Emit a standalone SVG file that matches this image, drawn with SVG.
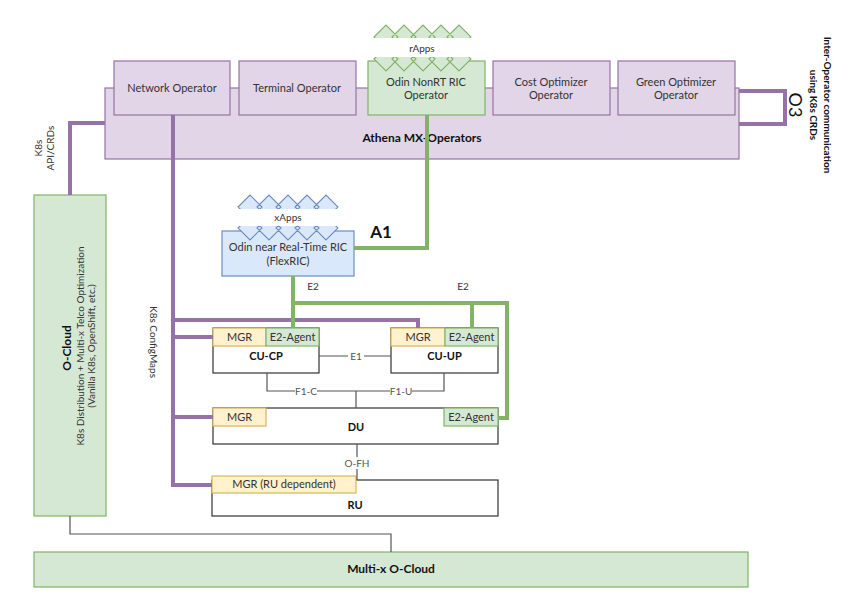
<svg xmlns="http://www.w3.org/2000/svg" width="850" height="604" viewBox="0 0 850 604">
<defs>
<style>
text{font-family:Lato,"Open Sans","Liberation Sans",sans-serif;fill:#333;font-size:11px;text-anchor:middle}
.b{font-weight:bold;fill:#111;font-size:12px}
.s{font-size:10px}
.pur{fill:#e1d5e7;stroke:#9673a6;stroke-width:1.2}
.grn{fill:#d5e8d4;stroke:#82b366;stroke-width:1.2}
.blu{fill:#dae8fc;stroke:#6c8ebf;stroke-width:1.2}
.yel{fill:#fff2cc;stroke:#d6b656;stroke-width:1.2}
.wht{fill:#fff;stroke:#333;stroke-width:1.2}
.p{fill:none;stroke:#9673a6;stroke-width:4}
.g{fill:none;stroke:#82b366;stroke-width:4}
.k{fill:none;stroke:#555;stroke-width:1.2}
.dg{fill:#d5e8d4;stroke:none}
.dgs{fill:none;stroke:#82b366;stroke-width:1.1}
.db{fill:#dae8fc;stroke:none}
.dbs{fill:none;stroke:#6c8ebf;stroke-width:1.1}
</style>
</defs>

<g id="athena">
<rect class="pur" x="105" y="88" width="634" height="71"/>
<text class="b" x="422" y="142">Athena MX-Operators</text>
</g>
<g id="network-operator">
<rect class="pur" x="114" y="61" width="116" height="54"/>
<text x="172" y="92">Network Operator</text>
</g>
<g id="terminal-operator">
<rect class="pur" x="239" y="61" width="117" height="54"/>
<text x="297" y="92">Terminal Operator</text>
</g>
<g id="odin-nonrt">
<rect class="grn" x="368" y="61" width="117" height="54"/>
<text x="426" y="86">Odin NonRT RIC</text>
<text x="426" y="99">Operator</text>
</g>
<g id="cost-optimizer">
<rect class="pur" x="493" y="61" width="117" height="54"/>
<text x="551" y="86">Cost Optimizer</text>
<text x="551" y="99">Operator</text>
</g>
<g id="green-optimizer">
<rect class="pur" x="618" y="61" width="117" height="54"/>
<text x="676" y="86">Green Optimizer</text>
<text x="676" y="99">Operator</text>
</g>

<g id="rapps">
<path class="dg" d="M374,37 l12,-12 l12,12 l-12,12z M392,37 l12,-12 l12,12 l-12,12z M411,37 l12,-12 l12,12 l-12,12z M429,37 l12,-12 l12,12 l-12,12z M447,37 l12,-12 l12,12 l-12,12z M374,59 l12,-12 l12,12 l-12,12z M392,59 l12,-12 l12,12 l-12,12z M411,59 l12,-12 l12,12 l-12,12z M429,59 l12,-12 l12,12 l-12,12z M447,59 l12,-12 l12,12 l-12,12z"/>
<path class="dgs" d="M374,37 l12,-12 l12,12 l-12,12z M392,37 l12,-12 l12,12 l-12,12z M411,37 l12,-12 l12,12 l-12,12z M429,37 l12,-12 l12,12 l-12,12z M447,37 l12,-12 l12,12 l-12,12z M374,59 l12,-12 l12,12 l-12,12z M392,59 l12,-12 l12,12 l-12,12z M411,59 l12,-12 l12,12 l-12,12z M429,59 l12,-12 l12,12 l-12,12z M447,59 l12,-12 l12,12 l-12,12z"/>
<rect x="372" y="38" width="104" height="19" fill="#fff"/>
<text class="s" x="422" y="52">rApps</text>
</g>

<g id="near-rt-ric">
<rect class="blu" x="222" y="231" width="132" height="45"/>
<text x="288" y="251">Odin near Real-Time RIC</text>
<text x="288" y="265">(FlexRIC)</text>
</g>
<g id="xapps">
<path class="db" d="M238,207 l12,-12 l12,12 l-12,12z M257,207 l12,-12 l12,12 l-12,12z M276,207 l12,-12 l12,12 l-12,12z M295,207 l12,-12 l12,12 l-12,12z M314,207 l12,-12 l12,12 l-12,12z M238,228 l12,-12 l12,12 l-12,12z M257,228 l12,-12 l12,12 l-12,12z M276,228 l12,-12 l12,12 l-12,12z M295,228 l12,-12 l12,12 l-12,12z M314,228 l12,-12 l12,12 l-12,12z"/>
<path class="dbs" d="M238,207 l12,-12 l12,12 l-12,12z M257,207 l12,-12 l12,12 l-12,12z M276,207 l12,-12 l12,12 l-12,12z M295,207 l12,-12 l12,12 l-12,12z M314,207 l12,-12 l12,12 l-12,12z M238,228 l12,-12 l12,12 l-12,12z M257,228 l12,-12 l12,12 l-12,12z M276,228 l12,-12 l12,12 l-12,12z M295,228 l12,-12 l12,12 l-12,12z M314,228 l12,-12 l12,12 l-12,12z"/>
<rect x="236" y="209" width="111" height="17" fill="#fff"/>
<text class="s" x="288" y="221">xApps</text>
</g>

<g id="o-cloud">
<rect class="grn" x="34" y="195" width="72" height="321"/>
<text class="b" transform="translate(71,348) rotate(-90)">O-Cloud</text>
<text class="s" transform="translate(84,346) rotate(-90)">K8s Distribution + Multi-x Telco Optimization</text>
<text class="s" transform="translate(95,346) rotate(-90)">(Vanilla K8s, OpenShift, etc.)</text>
</g>

<g id="multix-o-cloud">
<rect class="grn" x="34" y="552" width="714" height="35"/>
<text class="b" x="391" y="573">Multi-x O-Cloud</text>
</g>

<g id="cu-cp">
<rect class="wht" x="213" y="328" width="106" height="45"/>
<rect class="yel" x="213" y="328" width="53" height="18"/>
<rect class="grn" x="266" y="328" width="53" height="18"/>
<text x="239.5" y="341">MGR</text>
<text x="292.5" y="341">E2-Agent</text>
<text class="b" x="266" y="360" style="font-size:11px">CU-CP</text>
</g>
<g id="cu-up">
<rect class="wht" x="391" y="328" width="107" height="45"/>
<rect class="yel" x="391" y="328" width="54" height="18"/>
<rect class="grn" x="445" y="328" width="53" height="18"/>
<text x="418" y="341">MGR</text>
<text x="471.5" y="341">E2-Agent</text>
<text class="b" x="444.5" y="360" style="font-size:11px">CU-UP</text>
</g>
<g id="du">
<rect class="wht" x="213" y="408" width="285" height="36"/>
<rect class="yel" x="213" y="408" width="53" height="18"/>
<rect class="grn" x="444" y="408" width="54" height="18"/>
<text x="239.5" y="421">MGR</text>
<text x="471" y="421">E2-Agent</text>
<text class="b" x="356" y="431" style="font-size:11px">DU</text>
</g>
<g id="ru">
<rect class="wht" x="212" y="480" width="286" height="36"/>
<rect class="yel" x="212" y="476" width="144" height="17"/>
<text x="284" y="488">MGR (RU dependent)</text>
<text class="b" x="355" y="509" style="font-size:11px">RU</text>
</g>

<g id="connectors">
<path class="p" d="M105,123 H70 V195"/>
<path class="p" d="M739,91 H785 V124 H739"/>
<path class="p" d="M173,115 V485 H212 M173,320 H418 V328 M173,337 H213 M173,417 H213"/>
<path class="g" d="M427,115 V248 H354"/>
<path class="g" d="M293,276 V328 M293,303 H507 V418 H498 M472,303 V328"/>
<path class="k" d="M319,356 H391"/>
<path class="k" d="M267,373 V391 H444 V373 M356,391 V408"/>
<path class="k" d="M357,444 V480"/>
<path class="k" d="M70,516 V534 H391 V552"/>
<rect x="348" y="350" width="16" height="12" fill="#fff"/>
<text class="s" x="356" y="360" style="fill:#555">E1</text>
<rect x="295" y="385" width="22" height="12" fill="#fff"/>
<text class="s" x="306" y="395" style="fill:#555">F1-C</text>
<rect x="390" y="385" width="22" height="12" fill="#fff"/>
<text class="s" x="401" y="395" style="fill:#555">F1-U</text>
<rect x="344" y="457" width="26" height="12" fill="#fff"/>
<text class="s" x="357" y="467" style="fill:#555">O-FH</text>
<text class="s" x="313" y="290">E2</text>
<text class="s" x="463" y="290">E2</text>
<text class="b" x="381" y="238" style="font-size:17px">A1</text>
<text class="s" transform="translate(42,148) rotate(-90)">K8s</text>
<text class="s" transform="translate(54,148) rotate(-90)">API/CRDs</text>
<text class="s" transform="translate(150,342) rotate(90)">K8s ConfigMaps</text>
<text class="b" transform="translate(789,105) rotate(90)" style="font-size:18px;font-weight:normal">O3</text>
<text class="b" transform="translate(824,105) rotate(90)" style="font-size:10px">Inter-Operator communication</text>
<text class="b" transform="translate(810,105) rotate(90)" style="font-size:10px">using K8s CRDs</text>
</g>
</svg>
